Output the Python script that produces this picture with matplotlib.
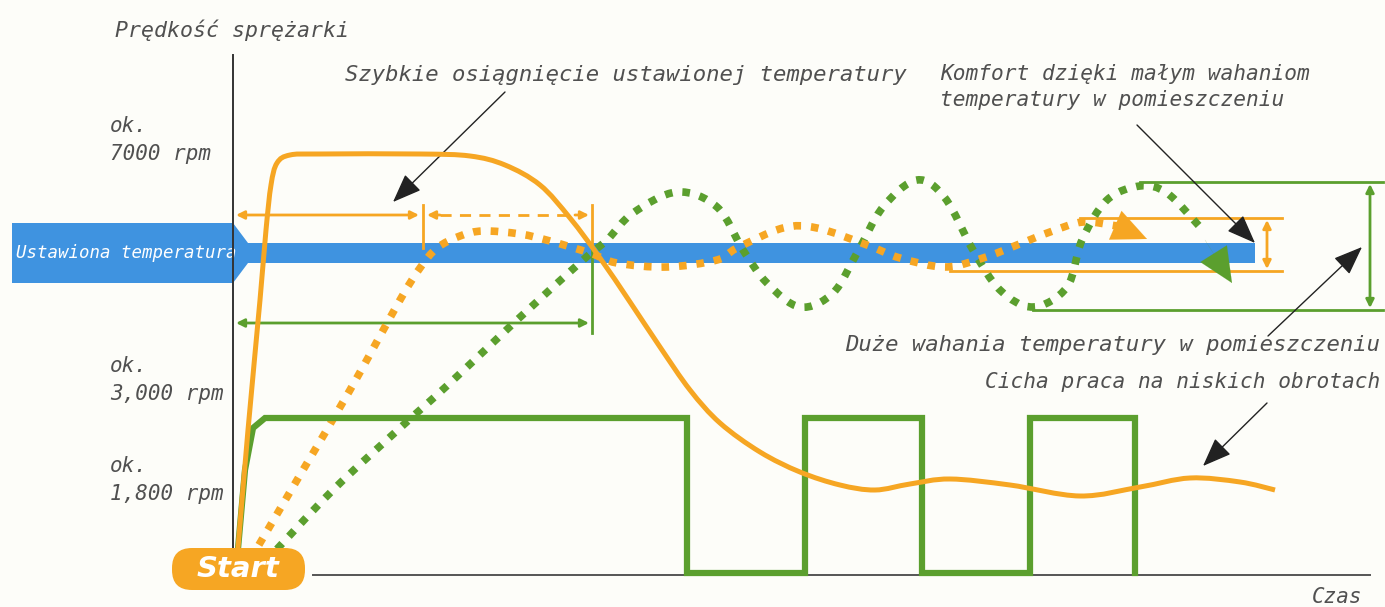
import numpy as np
import matplotlib.pyplot as plt
from matplotlib.path import Path
from matplotlib.patches import PathPatch, Polygon, FancyBboxPatch

# === Kolory ===
ORANGE = '#f6a623'
GREEN = '#5b9f2e'
BLUE = '#3f93e0'
GRAY = '#505050'
FONT = 'DejaVu Sans Mono'

# === Dane (jednostki schematu: x = czas, y = poziom, oś y odwrócona) ===
# prędkość sprężarki inwerterowej (linia ciągła pomarańczowa)
inv_speed_x = [237, 248, 260, 266, 271, 277, 290, 320, 420, 470, 505, 540, 570, 600,
               630, 660, 690, 720, 760, 800, 840, 875, 910, 950, 1010, 1080,
               1140, 1190, 1240, 1275]
inv_speed_y = [560, 430, 300, 230, 185, 163, 155, 154, 154, 156, 165, 185, 218, 258,
               302, 347, 390, 423, 452, 472, 485, 490, 484, 479, 485, 496,
               487, 478, 482, 490]

# temperatura w pomieszczeniu - inwerter (kropki pomarańczowe)
inv_temp_x = [250, 300, 350, 400, 420, 437, 460, 483, 520, 550, 590, 617, 667, 717, 737,
              783, 817, 867, 900, 945, 983, 1017, 1050, 1083, 1117]
inv_temp_y = [560, 475, 390, 300, 268, 248, 236, 231, 234, 241, 253, 263, 267, 260, 248,
              228, 228, 245, 258, 267, 258, 245, 232, 222, 226]

# prędkość sprężarki on/off (linia ciągła zielona)
onoff_speed_x = [237, 245, 253, 265, 687, 687, 805, 805, 922, 922, 1030, 1030, 1135, 1135]
onoff_speed_y = [560, 470, 428, 418, 418, 573, 573, 418, 418, 573, 573, 418, 418, 573]

# temperatura w pomieszczeniu - on/off (kropki zielone)
onoff_temp_x = [265, 333, 400, 450, 517, 583, 607, 633, 677, 717, 743, 767, 800, 833, 857,
                883, 917, 945, 973, 1000, 1033, 1067, 1082, 1107, 1140, 1167, 1200]
onoff_temp_y = [562, 490, 428, 383, 320, 260, 240, 213, 192, 207, 250, 283, 307, 293, 253,
                207, 180, 198, 250, 290, 307, 287, 240, 200, 186, 193, 227]

# pasek ustawionej temperatury
band_x = [12, 233, 248, 1255, 1255, 248, 233, 12]
band_y = [223, 223, 243, 243, 263, 263, 283, 283]

# etykiety osi
speed_labels = ['ok.\n7000 rpm', 'ok.\n3,000 rpm', 'ok.\n1,800 rpm']
speed_label_y = [140, 380, 480]


def smooth_path(xs, ys):
    # krzywa Beziera przechodząca przez punkty (Catmull-Rom)
    pts = np.column_stack([xs, ys]).astype(float)
    verts = [pts[0]]
    codes = [Path.MOVETO]
    for i in range(len(pts) - 1):
        p0 = pts[i - 1] if i > 0 else pts[i]
        p1 = pts[i]
        p2 = pts[i + 1]
        p3 = pts[i + 2] if i + 2 < len(pts) else p2
        verts += [p1 + (p2 - p0) / 6, p2 - (p3 - p1) / 6, p2]
        codes += [Path.CURVE4] * 3
    return Path(verts, codes)


def dim_arrow(ax, p1, p2, color, lw=2, ms=12, style='<|-|>'):
    ax.annotate('', xy=p2, xytext=p1,
                arrowprops=dict(arrowstyle=style, color=color, lw=lw,
                                mutation_scale=ms, shrinkA=0, shrinkB=0))


def note_arrow(ax, p1, p2):
    ax.annotate('', xy=p2, xytext=p1,
                arrowprops=dict(arrowstyle='-|>,head_length=0.9,head_width=0.35',
                                color='#222222', lw=1.0, mutation_scale=20,
                                shrinkA=0, shrinkB=0))


fig = plt.figure(figsize=(13.85, 6.07), dpi=100, facecolor='#fdfdf9')
ax = fig.add_axes([0, 0, 1, 1])
ax.set_xlim(0, 1385)
ax.set_ylim(607, 0)
ax.axis('off')

# === Pasek ustawionej temperatury ===
ax.add_patch(Polygon(np.column_stack([band_x, band_y]), closed=True,
                     facecolor=BLUE, edgecolor='none', zorder=1))
ax.text(16, 253, 'Ustawiona temperatura', color='white', fontsize=12.5,
        family=FONT, style='italic', va='center', ha='left', zorder=2)

# === Osie ===
ax.plot([233, 233], [55, 556], color='#333333', lw=1.4, zorder=2)
ax.plot([313, 1370], [575, 575], color='#555555', lw=1.4, zorder=2)

# === Wymiary (strzałki) ===
dim_arrow(ax, (236, 215), (419, 215), ORANGE)
ax.plot([423, 423], [205, 248], color=ORANGE, lw=2, zorder=3)
ax.plot([440, 575], [215, 215], color=ORANGE, lw=2, ls=(0, (4, 3)), zorder=3)
dim_arrow(ax, (440, 215), (427, 215), ORANGE, style='-|>')
dim_arrow(ax, (575, 215), (589, 215), ORANGE, style='-|>')
ax.plot([592, 592], [205, 250], color=ORANGE, lw=2, zorder=3)

dim_arrow(ax, (236, 323), (589, 323), GREEN)
ax.plot([592, 592], [250, 333], color=GREEN, lw=2, zorder=3)

ax.plot([1080, 1282], [218, 218], color=ORANGE, lw=2, zorder=3)
ax.plot([950, 1282], [271, 271], color=ORANGE, lw=2, zorder=3)
dim_arrow(ax, (1267, 220), (1267, 269), ORANGE)

ax.plot([1140, 1383], [182, 182], color=GREEN, lw=2, zorder=3)
ax.plot([1033, 1383], [310, 310], color=GREEN, lw=2, zorder=3)
dim_arrow(ax, (1370, 184), (1370, 308), GREEN)

# === Krzywe ===
ax.add_patch(PathPatch(smooth_path(onoff_temp_x, onoff_temp_y), fill=False,
                       edgecolor=GREEN, lw=5.5, linestyle=(0, (1, 1.3)),
                       capstyle='butt', zorder=4))
ax.add_patch(PathPatch(smooth_path(inv_temp_x, inv_temp_y), fill=False,
                       edgecolor=ORANGE, lw=5.5, linestyle=(0, (1, 1.3)),
                       capstyle='butt', zorder=5))
head = '-|>,head_length=0.55,head_width=0.25'
dim_arrow(ax, (1205, 240), (1232, 283), GREEN, lw=0.1, ms=45, style=head)
dim_arrow(ax, (1117, 226), (1147, 239), ORANGE, lw=0.1, ms=45, style=head)

ax.plot(onoff_speed_x, onoff_speed_y, color=GREEN, lw=4.5,
        solid_joinstyle='miter', zorder=6)
ax.add_patch(PathPatch(smooth_path(inv_speed_x, inv_speed_y), fill=False,
                       edgecolor=ORANGE, lw=3.6, zorder=7))

# === Start ===
ax.add_patch(FancyBboxPatch((172, 548), 133, 42,
                            boxstyle='round,pad=0,rounding_size=20',
                            facecolor=ORANGE, edgecolor='none', zorder=8))
ax.text(238, 569, 'Start', color='white', fontsize=21, weight='bold',
        style='italic', ha='center', va='center', zorder=9)

# === Teksty ===
txt = dict(family=FONT, style='italic', color=GRAY, zorder=9)
ax.text(115, 30, 'Prędkość sprężarki', va='center', ha='left', fontsize=15.5, **txt)
for lab, yy in zip(speed_labels, speed_label_y):
    ax.text(110, yy, lab, va='center', ha='left', linespacing=1.55, fontsize=15, **txt)
ax.text(345, 75, 'Szybkie osiągnięcie ustawionej temperatury', va='center', ha='left',
        fontsize=16, **txt)
ax.text(940, 87, 'Komfort dzięki małym wahaniom\ntemperatury w pomieszczeniu',
        va='center', ha='left', linespacing=1.4, fontsize=15.2, **txt)
ax.text(1380, 345, 'Duże wahania temperatury w pomieszczeniu', va='center', ha='right',
        fontsize=16, **txt)
ax.text(1380, 382, 'Cicha praca na niskich obrotach', va='center', ha='right',
        fontsize=15.2, **txt)
ax.text(1362, 597, 'Czas', va='center', ha='right', fontsize=15, **txt)

note_arrow(ax, (505, 92), (393, 202))
note_arrow(ax, (1137, 125), (1255, 243))
note_arrow(ax, (1268, 336), (1362, 247))
note_arrow(ax, (1267, 403), (1203, 466))

plt.savefig('out.png', dpi=100, facecolor=fig.get_facecolor())
